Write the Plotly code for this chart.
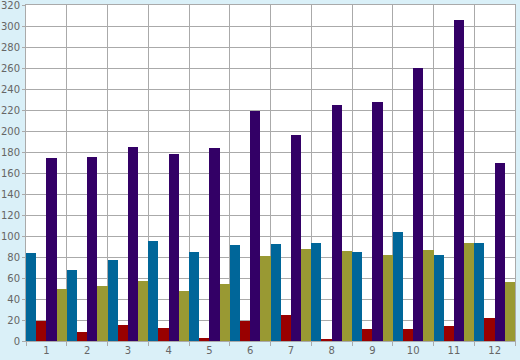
import plotly.graph_objects as go

categories = [str(i) for i in range(1, 13)]
blue = [84, 68, 77, 95, 85, 91, 92, 93, 85, 104, 82, 93]
red = [19, 9, 15, 12, 3, 19, 25, 1, 11, 11, 14, 22]
purple = [174, 175, 185, 178, 184, 219, 196, 225, 228, 260, 306, 170]
olive = [50, 52, 57, 48, 54, 81, 88, 86, 82, 87, 93, 56]
y_ticks = list(range(0, 321, 20))

series = [
    ("Series 1", blue, "#006699"),
    ("Series 2", red, "#990000"),
    ("Series 3", purple, "#330066"),
    ("Series 4", olive, "#999933"),
]

fig = go.Figure()
for name, vals, col in series:
    fig.add_trace(go.Bar(x=categories, y=vals, name=name, marker_color=col,
                         marker_line_width=0))

fig.update_layout(
    width=520, height=360,
    margin=dict(l=26, r=5, t=5, b=19, autoexpand=False),
    paper_bgcolor="#DAF0F8",
    plot_bgcolor="#FFFFFF",
    barmode="group", bargap=0, bargroupgap=0,
    showlegend=False,
    font=dict(family="DejaVu Sans", size=10, color="#666666"),
)
fig.update_xaxes(type="category", tickson="boundaries", showgrid=True,
                 gridcolor="#AAAAAA", gridwidth=1, ticks="outside", ticklen=4,
                 tickcolor="#AAAAAA", showline=True, linecolor="#AAAAAA",
                 mirror=True, linewidth=1, automargin=False)
fig.update_yaxes(range=[0, 320], tickmode="array", tickvals=y_ticks,
                 ticktext=[str(v) for v in y_ticks], showgrid=True,
                 gridcolor="#AAAAAA", ticklabeloverflow="allow",
                 gridwidth=1, ticks="outside", ticklen=3, tickcolor="#AAAAAA",
                 showline=True, linecolor="#AAAAAA", mirror=True, linewidth=1,
                 zeroline=False, automargin=False)

fig.write_html("out.html", config={"displayModeBar": False},
               post_script="document.body.style.margin='0';document.body.style.padding='0';")
